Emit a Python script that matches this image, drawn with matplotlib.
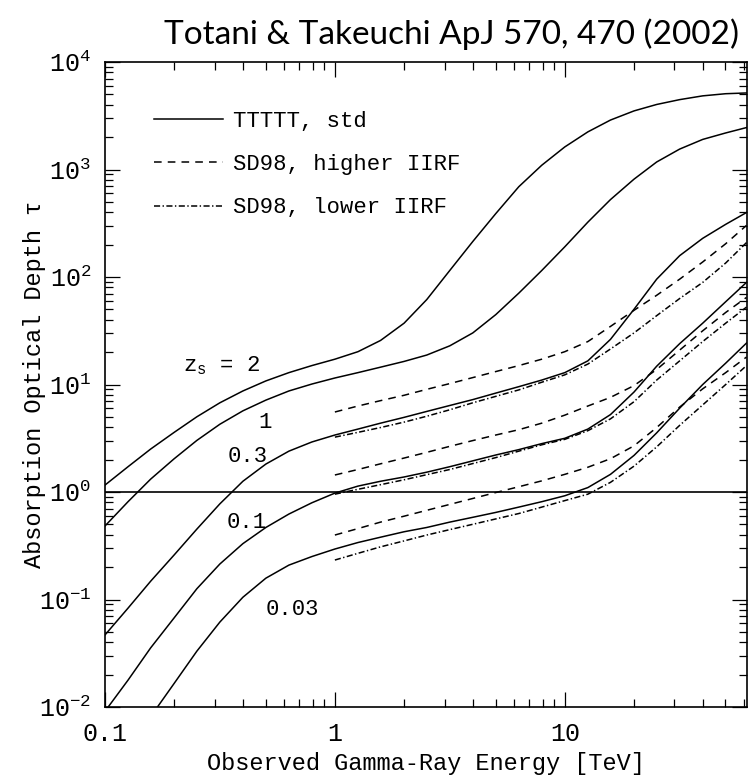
"""Absorption optical depth of gamma rays vs observed energy for several source redshifts."""

import matplotlib

matplotlib.use("Agg")
import matplotlib.pyplot as plt
from matplotlib import ticker

FIGURE_DPI = 100
MONO = ["Liberation Mono", "DejaVu Sans Mono"]

# observed energies [TeV]; the SD98 curves only start at 1 TeV
ENERGY = [0.1, 0.126, 0.158, 0.2, 0.251, 0.316, 0.398, 0.501, 0.631, 0.794,
          1.0, 1.26, 1.58, 2.0, 2.51, 3.16, 3.98, 5.01, 6.31, 7.94,
          10.0, 12.6, 15.8, 20.0, 25.1, 31.6, 39.8, 50.1, 61.7]
ENERGY_SD98 = ENERGY[10:]
ENERGY_Z003 = [0.168] + ENERGY[3:]

# TTTTT standard model, one curve per source redshift
STD_Z2 = [1.16, 1.72, 2.51, 3.59, 5.01, 6.76, 8.71, 10.8, 12.9, 15.0,
          17.2, 20.2, 25.7, 37.2, 61.7, 115, 214, 389, 692, 1096,
          1622, 2239, 2884, 3508, 4027, 4467, 4842, 5070, 5152]
STD_Z1 = [0.483, 0.813, 1.318, 2.04, 3.02, 4.27, 5.69, 7.16, 8.71, 10.1,
          11.5, 12.9, 14.5, 16.4, 18.8, 22.9, 30.2, 44.7, 70.8, 115,
          191, 324, 525, 813, 1175, 1549, 1905, 2188, 2455]
STD_Z03 = [0.0468, 0.0832, 0.148, 0.260, 0.452, 0.776, 1.259, 1.82, 2.40, 2.92,
           3.39, 3.85, 4.37, 4.95, 5.62, 6.38, 7.24, 8.32, 9.55, 11.0,
           12.9, 16.6, 26.3, 50.1, 95.5, 158, 229, 309, 398]
STD_Z01 = [0.00912, 0.0178, 0.0355, 0.0676, 0.126, 0.214, 0.331, 0.468, 0.624, 0.794,
           0.977, 1.135, 1.259, 1.38, 1.53, 1.72, 1.95, 2.21, 2.48, 2.82,
           3.16, 3.85, 5.25, 8.51, 14.8, 24.0, 37.2, 58.9, 89.1]
STD_Z003 = [0.0098, 0.0166, 0.0331, 0.0617, 0.105, 0.158, 0.209, 0.251,
            0.295, 0.339, 0.380, 0.427, 0.468, 0.525, 0.582, 0.646, 0.724, 0.813,
            0.923, 1.10, 1.46, 2.19, 3.55, 6.03, 10.0, 15.8, 24.3]

# SD98, higher IIRF
HIGH_Z03 = [5.55, 6.31, 7.08, 7.94, 9.02, 10.2, 11.6, 13.2, 15.0, 17.2,
            20.2, 25.1, 34.7, 49.0, 67.6, 95.5, 138, 204, 302]
HIGH_Z01 = [1.44, 1.62, 1.83, 2.07, 2.34, 2.66, 3.01, 3.39, 3.80, 4.37,
            5.19, 6.31, 7.59, 9.77, 13.8, 20.9, 31.6, 46.8, 64.6]
HIGH_Z003 = [0.398, 0.457, 0.525, 0.596, 0.676, 0.767, 0.871, 0.989, 1.12, 1.27,
             1.46, 1.70, 2.04, 2.69, 3.98, 6.17, 9.12, 12.9, 18.0]

# SD98, lower IIRF
LOW_Z03 = [3.24, 3.59, 3.98, 4.47, 5.07, 5.82, 6.76, 7.76, 8.91, 10.5,
           12.3, 15.5, 21.4, 30.2, 43.7, 63.1, 89.1, 135, 209]
LOW_Z01 = [0.955, 1.06, 1.17, 1.30, 1.45, 1.62, 1.84, 2.09, 2.40, 2.75,
           3.09, 3.72, 4.79, 6.92, 11.0, 16.6, 25.1, 37.2, 52.5]
LOW_Z003 = [0.233, 0.269, 0.309, 0.351, 0.398, 0.447, 0.501, 0.562, 0.631, 0.724,
            0.832, 0.955, 1.23, 1.74, 2.63, 4.17, 6.46, 10.0, 15.0]

# redshift labels placed next to the curves
Z_LABELS = ["z$_{\\rm s}$ = 2", "1", "0.3", "0.1", "0.03"]
Z_LABEL_E = [0.323, 0.497, 0.419, 0.414, 0.656]
Z_LABEL_TAU = [14.9, 4.48, 2.12, 0.526, 0.08]

X_TICKS = [0.1, 1, 10]
X_TICK_LABELS = ["0.1", "1", "10"]
Y_TICKS = [1e-2, 1e-1, 1e0, 1e1, 1e2, 1e3, 1e4]
X_LIMITS = (0.1, 62)
Y_LIMITS = (1e-2, 1e4)

DASHED = (0, (5, 4))
DASH_DOT = (0, (4, 1.6, 0.9, 1.6))
LINE_WIDTH = 1.1


def main() -> None:
    plt.rcParams["font.family"] = MONO
    plt.rcParams["mathtext.fontset"] = "custom"
    plt.rcParams["mathtext.rm"] = "Liberation Mono"
    plt.rcParams["mathtext.it"] = "Liberation Mono"

    fig = plt.figure(figsize=(7.53, 7.75), dpi=FIGURE_DPI)
    ax = fig.add_axes([0.1394, 0.0877, 0.8526, 0.8323])

    std = [
        (ENERGY, STD_Z2),
        (ENERGY, STD_Z1),
        (ENERGY, STD_Z03),
        (ENERGY, STD_Z01),
        (ENERGY_Z003, STD_Z003),
    ]
    higher = [HIGH_Z03, HIGH_Z01, HIGH_Z003]
    lower = [LOW_Z03, LOW_Z01, LOW_Z003]

    for index, (xs, ys) in enumerate(std):
        ax.plot(xs, ys, color="black", lw=LINE_WIDTH, label="TTTTT, std" if index == 0 else None)
    for index, ys in enumerate(higher):
        ax.plot(ENERGY_SD98, ys, color="black", lw=LINE_WIDTH, linestyle=DASHED,
                label="SD98, higher IIRF" if index == 0 else None)
    for index, ys in enumerate(lower):
        ax.plot(ENERGY_SD98, ys, color="black", lw=LINE_WIDTH, linestyle=DASH_DOT,
                label="SD98, lower IIRF" if index == 0 else None)

    ax.axhline(1.0, color="black", lw=1.2)

    for text, x, y in zip(Z_LABELS, Z_LABEL_E, Z_LABEL_TAU):
        ax.text(x, y, text, fontsize=16, ha="center", va="center")

    ax.set_xscale("log")
    ax.set_yscale("log")
    ax.set_xlim(*X_LIMITS)
    ax.set_ylim(*Y_LIMITS)
    ax.xaxis.set_major_locator(ticker.FixedLocator(X_TICKS))
    ax.xaxis.set_major_formatter(ticker.FixedFormatter(X_TICK_LABELS))
    ax.xaxis.set_minor_formatter(ticker.NullFormatter())
    ax.yaxis.set_major_locator(ticker.FixedLocator(Y_TICKS))
    ax.yaxis.set_major_formatter(ticker.LogFormatterMathtext())
    ax.yaxis.set_minor_locator(ticker.LogLocator(base=10, subs=range(2, 10), numticks=20))
    ax.yaxis.set_minor_formatter(ticker.NullFormatter())

    ax.tick_params(which="both", direction="in", top=True, right=True, width=0.9, labelsize=18)
    ax.tick_params(which="major", length=11)
    ax.tick_params(which="minor", length=6)
    ax.tick_params(axis="x", which="major", pad=11)
    ax.tick_params(axis="y", which="major", pad=10)
    for spine in ax.spines.values():
        spine.set_linewidth(1.2)

    ax.set_xlabel("Observed Gamma-Ray Energy [TeV]", fontsize=17)
    ax.set_ylabel("Absorption Optical Depth τ", fontsize=17)
    ax.xaxis.set_label_coords(0.5, -0.07)
    ax.yaxis.set_label_coords(-0.092, 0.5)

    ax.legend(
        loc="upper left",
        bbox_to_anchor=(0.045, 0.955),
        frameon=False,
        fontsize=16,
        handlelength=3.1,
        handletextpad=0.45,
        labelspacing=1.0,
    )

    fig.text(0.982, 0.956, "Totani & Takeuchi ApJ 570, 470 (2002)",
             family=["Lato", "DejaVu Sans"], fontsize=24, ha="right", va="center")

    fig.savefig("out.png", dpi=FIGURE_DPI, facecolor="white")
    plt.close(fig)


if __name__ == "__main__":
    main()
